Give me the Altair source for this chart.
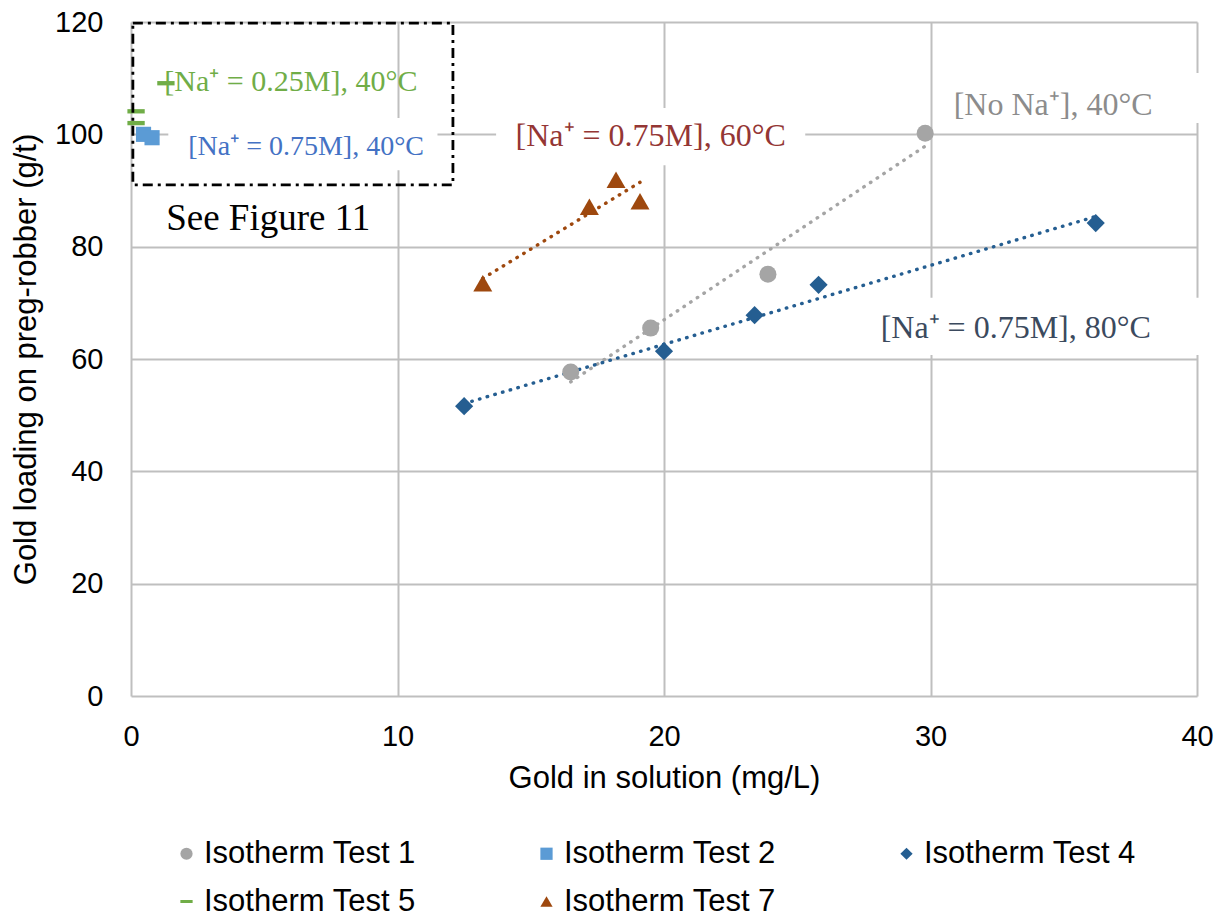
import altair as alt
import pandas as pd

# ---------------- data ----------------
series = ["Isotherm Test 1", "Isotherm Test 2", "Isotherm Test 4", "Isotherm Test 5", "Isotherm Test 7"]

t1_x = [16.5, 19.5, 23.9, 29.8]
t1_y = [57.7, 65.5, 75.1, 100.2]
t2_x = [0.47, 0.79]
t2_y = [100.0, 99.4]
t4_x = [12.5, 20.0, 23.4, 25.8, 36.2]
t4_y = [51.6, 61.4, 67.8, 73.2, 84.2]
t5_x = [0.19, 0.19, 1.31]
t5_y = [104.1, 102.0, 109.1]
t7_x = [13.2, 17.2, 18.2, 19.1]
t7_y = [73.5, 87.1, 91.9, 88.1]

x_ticks = [0, 10, 20, 30, 40]
y_ticks = [0, 20, 40, 60, 80, 100, 120]
x_title = "Gold in solution (mg/L)"
y_title = "Gold loading on preg-robber (g/t)"

# annotations: text, x, y (data coords)
ann_text = ["[Na⁺ = 0.25M], 40°C", "[Na⁺ = 0.75M], 40°C", "[Na⁺ = 0.75M], 60°C",
            "[No Na⁺], 40°C", "[Na⁺ = 0.75M], 80°C", "See Figure 11"]
ann_x = [6.0, 6.57, 19.5, 34.6, 33.2, 5.15]
ann_y = [109.3, 97.7, 99.7, 105.2, 65.5, 84.9]

# white boxes behind some labels (data coords)
box_x1 = [1.4, 13.7, 30.2, 27.5]
box_x2 = [11.5, 25.3, 40.6, 40.6]
box_y1 = [93.6, 94.5, 102.0, 60.7]
box_y2 = [102.9, 104.7, 110.9, 70.9]

# dash-dot frame
frame_x1, frame_x2 = [0.07], [12.08]
frame_y1, frame_y2 = [91.0], [119.8]

# ---------------- styles ----------------
colors = ["#A5A5A5", "#5B9BD5", "#255E91", "#70AD47", "#9E480E"]
shapes = ["circle", "square", "diamond", "M-1,-0.25H1V0.25H-1Z", "triangle-up"]
sizes = [290, 230, 330, 300, 360]
ann_colors = ["#70AD47", "#4472C4", "#943634", "#8C8C8C", "#3B4A5E", "#000000"]
ann_sizes = [30, 28, 32, 32, 32, 37]

rows = []
for i, (xs, ys) in enumerate([(t1_x, t1_y), (t2_x, t2_y), (t4_x, t4_y), (t5_x, t5_y), (t7_x, t7_y)]):
    for a, b in zip(xs, ys):
        rows.append({"series": series[i], "x": a, "y": b, "sz": sizes[i]})
df = pd.DataFrame(rows)

xscale = alt.Scale(domain=[0, 40], nice=False, zero=False)
yscale = alt.Scale(domain=[0, 120], nice=False)
xaxis = alt.Axis(values=x_ticks, title=x_title, labelPadding=26, titlePadding=12, format="d",
                 labelFlush=False)
yaxis = alt.Axis(values=y_ticks, title=y_title, labelPadding=28, titlePadding=12, format="d",
                 labelFlush=False)


def X(f="x:Q"):
    return alt.X(f, scale=xscale, axis=xaxis, title=x_title)


def Y(f="y:Q"):
    return alt.Y(f, scale=yscale, axis=yaxis, title=y_title)


# white boxes
boxes = alt.Chart(pd.DataFrame({"x": box_x1, "x2": box_x2, "y": box_y1, "y2": box_y2})).mark_rect(
    fill="white", stroke=None
).encode(x=X(), x2=alt.X2("x2:Q", title=x_title), y=Y(), y2=alt.Y2("y2:Q", title=y_title))

# trendlines
trend_layers = []
for name, col in [(series[0], colors[0]), (series[2], colors[2]), (series[4], colors[4])]:
    tl = alt.Chart(df).transform_filter(alt.datum.series == name).transform_regression(
        "x", "y"
    ).mark_line(color=col, strokeWidth=3.4, strokeDash=[0.5, 7.5], strokeCap="round").encode(
        x=X(), y=Y()
    )
    trend_layers.append(tl)

points = alt.Chart(df).mark_point(filled=True, opacity=1, strokeWidth=0).encode(
    x=X(), y=Y(),
    color=alt.Color("series:N", scale=alt.Scale(domain=series, range=colors),
                    legend=alt.Legend(title=None, orient="none", legendX=40, legendY=816,
                                      columns=3, direction="horizontal", columnPadding=115,
                                      rowPadding=16, symbolSize=150, labelFontSize=31,
                                      labelFont="Liberation Sans", labelOffset=2, labelLimit=400,
                                      labelColor="black")),
    shape=alt.Shape("series:N", scale=alt.Scale(domain=series, range=shapes)),
    size=alt.Size("sz:Q", scale=None, legend=None),
)

frame = alt.Chart(pd.DataFrame({"x": frame_x1, "x2": frame_x2, "y": frame_y1, "y2": frame_y2})).mark_rect(
    filled=False, stroke="black", strokeWidth=2.8, strokeDash=[10, 5, 3, 5]
).encode(x=X(), x2=alt.X2("x2:Q", title=x_title), y=Y(), y2=alt.Y2("y2:Q", title=y_title))

text_layers = []
for t, ax, ay, c, fs in zip(ann_text, ann_x, ann_y, ann_colors, ann_sizes):
    text_layers.append(
        alt.Chart(pd.DataFrame({"x": [ax], "y": [ay], "t": [t]})).mark_text(
            font="Liberation Serif", fontSize=fs, color=c, align="center", baseline="middle"
        ).encode(x=X(), y=Y(), text="t:N")
    )

chart = alt.layer(boxes, *trend_layers, points, frame, *text_layers).properties(
    width=1066, height=674,
    autosize=alt.AutoSizeParams(type="none"),
    padding={"left": 131, "top": 22, "right": 29, "bottom": 223},
).configure_view(stroke=None).configure_axis(
    grid=True, gridColor="#BFBFBF", gridWidth=2, domain=False, ticks=False, tickSize=0,
    labelFont="Liberation Sans", labelFontSize=29, labelColor="black",
    titleFont="Liberation Sans", titleFontSize=31, titleFontWeight="normal", titleColor="black",
)

chart.save("out.html", embed_options={"renderer": "svg", "actions": False})
